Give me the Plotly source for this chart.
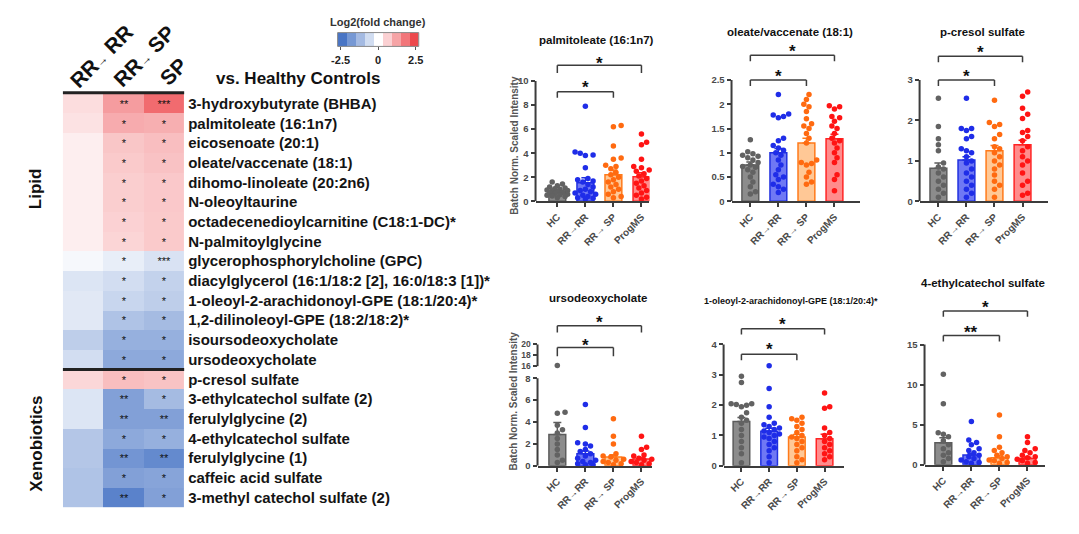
import plotly.graph_objects as go

W, H = 1079, 534
FONT = "Liberation Sans, Arial, sans-serif"


def fx(p):
    return p / W


def fy(p):
    return 1 - p / H


# ---------------------------------------------------------------- heatmap data
metabolites = [
    "3-hydroxybutyrate (BHBA)", "palmitoleate (16:1n7)", "eicosenoate (20:1)",
    "oleate/vaccenate (18:1)", "dihomo-linoleate (20:2n6)", "N-oleoyltaurine",
    "octadecenedioylcarnitine (C18:1-DC)*", "N-palmitoylglycine",
    "glycerophosphorylcholine (GPC)", "diacylglycerol (16:1/18:2 [2], 16:0/18:3 [1])*",
    "1-oleoyl-2-arachidonoyl-GPE (18:1/20:4)*", "1,2-dilinoleoyl-GPE (18:2/18:2)*",
    "isoursodeoxycholate", "ursodeoxycholate", "p-cresol sulfate",
    "3-ethylcatechol sulfate (2)", "ferulylglycine (2)", "4-ethylcatechol sulfate",
    "ferulylglycine (1)", "caffeic acid sulfate", "3-methyl catechol sulfate (2)",
]
comparisons = ["RR→ RR", "RR→ SP", "SP"]
fc_rr_rr = [0.45, 0.38, 0.22, 0.22, 0.22, 0.22, 0.22, 0.22, -0.12, -0.46, -0.4, -0.4, -0.86,
            -0.59, 0.53, -0.46, -0.46, -0.99, -0.99, -1.05, -1.05]
fc_rr_sp = [1.3, 1.1, 0.75, 0.7, 0.65, 0.65, 0.6, 0.55, -0.3, -0.59, -0.72, -1.05, -1.38,
            -1.5, 0.86, -1.65, -1.65, -1.5, -1.84, -1.65, -2.17]
fc_sp = [1.95, 1.05, 0.85, 0.8, 0.72, 0.72, 0.7, 0.7, -0.5, -0.79, -0.86, -1.19, -1.38,
         -1.5, 0.79, -1.19, -1.65, -1.38, -2.04, -1.58, -1.65]
sig_rr_rr = [""] * 21
sig_rr_sp = ["**", "*", "*", "*", "*", "*", "*", "*", "*", "*", "*", "*", "*", "*",
             "*", "**", "**", "*", "**", "*", "**"]
sig_sp = ["***", "*", "*", "*", "*", "*", "*", "*", "***", "*", "*", "*", "*", "*",
          "*", "*", "**", "*", "**", "*", "*"]
class_names = ["Lipid", "Xenobiotics"]
n_lipid_rows = 14

cbar_values = [-2.4, -1.8, -1.2, -0.6, 0.0, 0.6, 1.2, 1.8, 2.4]
cbar_ticks = [-2.5, 0, 2.5]

# ---------------------------------------------------------------- bar chart data
groups = ["HC", "RR→RR", "RR→ SP", "ProgMS"]

palmitoleate_hc = [1.6, 1.45, 1.3, 1.2, 1.1, 1.05, 1.0, 0.95, 0.9, 0.85, 0.8, 0.75, 0.7,
                   0.65, 0.6, 0.55, 0.5, 0.45, 0.4, 0.3]
palmitoleate_rr = [7.9, 4.1, 4.0, 3.85, 3.8, 2.8, 1.9, 1.8, 1.7, 1.6, 1.4, 1.2, 1.0, 0.9,
                   0.8, 0.7, 0.6, 0.5, 0.4, 0.3, 0.25, 0.2]
palmitoleate_sp = [6.3, 6.2, 4.6, 3.6, 3.5, 3.0, 2.9, 2.7, 2.4, 2.2, 2.0, 1.8, 1.6, 1.4,
                   1.2, 1.0, 0.8, 0.6, 0.4, 0.3]
palmitoleate_prog = [5.6, 4.9, 4.7, 3.5, 2.9, 2.8, 2.6, 2.5, 2.3, 2.1, 1.9, 1.7, 1.5, 1.3,
                     1.1, 0.9, 0.7, 0.5, 0.35, 0.2]
palmitoleate_mean = [0.85, 1.55, 2.2, 2.05]
palmitoleate_sem = [0.08, 0.4, 0.4, 0.33]

oleate_hc = [1.27, 1.02, 0.98, 0.95, 0.93, 0.9, 0.85, 0.8, 0.75, 0.72, 0.7, 0.65, 0.6, 0.5,
             0.4, 0.3, 0.2, 0.15]
oleate_rr = [2.2, 1.8, 1.78, 1.75, 1.72, 1.3, 1.25, 1.15, 1.1, 1.05, 1.0, 0.95, 0.85, 0.75,
             0.65, 0.55, 0.5, 0.45, 0.35, 0.3, 0.25, 0.18]
oleate_sp = [2.2, 2.1, 2.0, 1.95, 1.85, 1.7, 1.6, 1.55, 1.5, 1.4, 1.3, 1.2, 0.85, 0.8, 0.78,
             0.75, 0.6, 0.5, 0.4, 0.35]
oleate_prog = [1.97, 1.95, 1.9, 1.75, 1.72, 1.65, 1.55, 1.5, 1.4, 1.3, 1.25, 1.2, 1.1, 1.0,
               0.9, 0.8, 0.55, 0.45, 0.22]
oleate_mean = [0.75, 1.0, 1.2, 1.29]
oleate_sem = [0.06, 0.09, 0.1, 0.09]

pcresol_hc = [2.55, 1.85, 1.55, 1.4, 1.25, 0.95, 0.85, 0.8, 0.7, 0.6, 0.5, 0.4, 0.3, 0.2, 0.1]
pcresol_rr = [2.55, 1.8, 1.8, 1.75, 1.6, 1.55, 1.3, 1.25, 1.2, 1.1, 1.0, 0.95, 0.8, 0.7, 0.6,
              0.5, 0.4, 0.3, 0.2, 0.1]
pcresol_sp = [2.5, 1.95, 1.9, 1.85, 1.65, 1.55, 1.35, 1.3, 1.2, 1.1, 1.0, 0.9, 0.8, 0.65, 0.5,
              0.4, 0.3, 0.1]
pcresol_prog = [2.7, 2.6, 2.3, 2.15, 2.05, 1.75, 1.7, 1.6, 1.5, 1.35, 1.25, 1.1, 1.0, 0.9,
                0.7, 0.5, 0.4, 0.2, 0.15]
pcresol_mean = [0.82, 1.02, 1.25, 1.4]
pcresol_sem = [0.13, 0.08, 0.13, 0.11]

urso_hc = [16.1, 4.9, 4.8, 3.7, 3.3, 3.0, 2.5, 2.0, 1.5, 1.0, 0.5, 0.3]
urso_rr = [5.6, 3.5, 2.1, 2.0, 1.8, 1.5, 1.3, 1.1, 0.9, 0.7, 0.5, 0.4, 0.3, 0.2, 0.1, 0.1]
urso_sp = [4.3, 2.7, 2.0, 1.1, 0.9, 0.8, 0.6, 0.5, 0.4, 0.3, 0.2, 0.1]
urso_prog = [2.7, 1.7, 1.5, 1.0, 0.9, 0.7, 0.6, 0.5, 0.4, 0.3, 0.2, 0.1]
urso_mean = [2.85, 1.1, 0.8, 0.62]
urso_sem = [1.1, 0.25, 0.22, 0.13]

gpe_hc = [2.95, 2.75, 2.05, 2.05, 2.02, 2.0, 1.95, 1.75, 1.6, 1.5, 1.4, 1.2, 1.0, 0.8, 0.6,
          0.4, 0.1]
gpe_rr = [3.3, 2.55, 1.95, 1.6, 1.4, 1.35, 1.3, 1.25, 1.2, 1.15, 1.1, 1.05, 1.0, 0.95, 0.9,
          0.8, 0.7, 0.6, 0.5, 0.3, 0.1]
gpe_sp = [1.6, 1.55, 1.5, 1.4, 1.3, 1.2, 1.1, 1.0, 0.95, 0.9, 0.8, 0.7, 0.6, 0.5, 0.3, 0.2, 0.1]
gpe_prog = [2.4, 1.95, 1.9, 1.25, 1.1, 1.0, 0.9, 0.8, 0.7, 0.6, 0.5, 0.4, 0.3, 0.2]
gpe_mean = [1.46, 1.14, 0.95, 0.89]
gpe_sem = [0.13, 0.1, 0.08, 0.15]

ethylcat_hc = [11.3, 7.6, 4.0, 3.8, 3.5, 3.0, 2.5, 2.0, 1.5, 1.2, 0.8, 0.4]
ethylcat_rr = [5.4, 3.1, 2.8, 2.5, 2.0, 1.8, 1.5, 1.2, 1.0, 0.8, 0.6, 0.4, 0.3, 0.2]
ethylcat_sp = [6.2, 3.5, 2.2, 1.8, 1.5, 1.2, 1.0, 0.8, 0.6, 0.5, 0.3, 0.2]
ethylcat_prog = [3.5, 2.8, 2.0, 1.8, 1.5, 1.2, 1.0, 0.9, 0.7, 0.5, 0.3, 0.2]
ethylcat_mean = [2.74, 1.23, 0.9, 0.8]
ethylcat_sem = [0.65, 0.22, 0.27, 0.15]

titles = ["palmitoleate (16:1n7)", "oleate/vaccenate (18:1)", "p-cresol sulfate",
          "ursodeoxycholate", "1-oleoyl-2-arachidonoyl-GPE (18:1/20:4)*",
          "4-ethylcatechol sulfate"]
yticks = [[0, 2, 4, 6, 8, 10], [0, 0.5, 1.0, 1.5, 2.0, 2.5], [0, 1, 2, 3],
          [0, 2, 4, 6, 8], [0, 1, 2, 3, 4], [0, 5, 10, 15]]
yticks_upper_urso = [16, 18, 20]
# significance vs HC: (lower bracket HC vs RR→SP, upper bracket HC vs ProgMS)
sig_labels = [("*", "*"), ("*", "*"), ("*", "*"), ("*", "*"), ("*", "*"), ("**", "*")]
ylabel = "Batch Norm. Scaled Intensity"

all_points = [
    [palmitoleate_hc, palmitoleate_rr, palmitoleate_sp, palmitoleate_prog],
    [oleate_hc, oleate_rr, oleate_sp, oleate_prog],
    [pcresol_hc, pcresol_rr, pcresol_sp, pcresol_prog],
    [urso_hc, urso_rr, urso_sp, urso_prog],
    [gpe_hc, gpe_rr, gpe_sp, gpe_prog],
    [ethylcat_hc, ethylcat_rr, ethylcat_sp, ethylcat_prog],
]
all_means = [palmitoleate_mean, oleate_mean, pcresol_mean, urso_mean, gpe_mean, ethylcat_mean]
all_sems = [palmitoleate_sem, oleate_sem, pcresol_sem, urso_sem, gpe_sem, ethylcat_sem]

# ---------------------------------------------------------------- styling / geometry (pixels)
bar_fill = ["#8c8c8c", "#6f78f4", "#ffc896", "#ff8c8c"]
bar_edge = ["#5c5c5c", "#2030e0", "#ff7a1a", "#ff2424"]
dot_col = ["#626262", "#1f2de8", "#ff6a10", "#ff1414"]
AX = "#3c3c3c"
TICKC = "#4a4a4a"

geo = [
    dict(dom=(535, 650), hc=557, prog=642, y0=202, ppu=12.2, ytop=45, title=(597, 39, 11.5),
         br=((91, 97, 82), (64, 72, 57))),
    dict(dom=(733, 863), hc=752, prog=837, y0=202, ppu=49.2, ytop=40, title=(792, 30, 11.5),
         br=((79, 85, 70), (54, 60, 45))),
    dict(dom=(923, 1053), hc=942, prog=1027, y0=202, ppu=41.0, ytop=40, title=(987, 30, 11.5),
         br=((79, 85, 70), (55, 61, 46))),
    dict(dom=(537, 653), hc=557, prog=642, y0=470, ppu=11.1, ytop=378, title=(598, 300, 11.5),
         br=((350, 359, 343), (328, 335, 320))),
    dict(dom=(725, 847), hc=743, prog=827, y0=470, ppu=30.75, ytop=315, title=(793, 303, 9),
         br=((357, 363, 347), (331, 337, 322))),
    dict(dom=(928, 1050), hc=947, prog=1032, y0=469, ppu=8.13, ytop=298, title=(987, 285, 11.5),
         br=((338, 344, 330), (313, 319, 305))),
]
# broken-axis upper segment of ursodeoxycholate panel
upper = dict(v16_px=369, ppu=5.5, bottom_px=373, top_px=312)


def swarm(vals, ppu_y, ppu_x, d=5.4, step=2.6, maxoff=11):
    cands = [0.0]
    k = 1
    while k * step <= maxoff:
        cands += [k * step, -k * step]
        k += 1
    placed = []
    offs = [0.0] * len(vals)
    for i in sorted(range(len(vals)), key=lambda j: vals[j]):
        yv = vals[i] * ppu_y
        best, best_c, best_d = None, 0.0, -1
        for c in cands:
            md = min([((c - a) ** 2 + (yv - b) ** 2) ** 0.5 for a, b in placed] or [1e9])
            if md >= d:
                best = c
                break
            if md > best_d:
                best_d, best_c = md, c
        if best is None:
            best = best_c
        placed.append((best, yv))
        offs[i] = best / ppu_x
    return offs


def note(x, y, text, size, color="#111", angle=0, xref="paper", yref="paper"):
    return dict(x=x, y=y, xref=xref, yref=yref, showarrow=False, text=text,
                textangle=angle, xanchor="center", yanchor="middle",
                font=dict(size=size, weight="bold", color=color, family=FONT))


fig = go.Figure()
CS = [[0, "rgb(50,100,190)"], [0.5, "rgb(255,255,255)"], [1, "rgb(235,50,55)"]]
ZMAX = 2.7

# ---------------------------------------------------------------- heatmap
z = [[a, b, c] for a, b, c in zip(fc_rr_rr, fc_rr_sp, fc_sp)]
txt = [[a, b, c] for a, b, c in zip(sig_rr_rr, sig_rr_sp, sig_sp)]
fig.add_trace(go.Heatmap(z=z, x=[0, 1, 2], y=list(range(len(metabolites))), colorscale=CS,
                         zmin=-ZMAX, zmax=ZMAX, showscale=False, text=txt,
                         texttemplate="%{text}",
                         textfont=dict(size=11, color="#111", family=FONT),
                         hoverinfo="skip", xaxis="x", yaxis="y"))

# mini colour bar
fig.add_trace(go.Heatmap(z=[cbar_values], x=cbar_values, y=[0], colorscale=CS, zmin=-ZMAX,
                         zmax=ZMAX, showscale=False, hoverinfo="skip", xaxis="x2", yaxis="y2"))

layout = dict(
    width=W, height=H, margin=dict(l=0, r=0, t=0, b=0), paper_bgcolor="white",
    plot_bgcolor="rgba(0,0,0,0)", barmode="overlay", showlegend=False,
    font=dict(family=FONT, color="#111"),
    xaxis=dict(domain=[fx(57.5), fx(180)], range=[-0.5, 2.5], visible=False, anchor="y"),
    yaxis=dict(domain=[fy(512), fy(93)], range=[20.5, -0.5], side="right", anchor="x",
               tickvals=list(range(len(metabolites))), ticktext=metabolites, ticks="",
               showgrid=False, zeroline=False, showline=False, ticklabelstandoff=3,
               tickfont=dict(size=15, weight="bold", color="#141414", family=FONT)),
    xaxis2=dict(domain=[fx(335), fx(417)], range=[-2.7, 2.7], anchor="y2",
                tickvals=cbar_ticks, ticktext=["-2.5", "0", "2.5"], ticks="outside",
                ticklen=3, tickcolor="#555", showgrid=False, zeroline=False, showline=False,
                tickfont=dict(size=11, weight="bold", color="#222", family=FONT)),
    yaxis2=dict(domain=[fy(45), fy(31)], range=[-0.5, 0.5], visible=False, anchor="x2"),
)

shapes = [
    dict(type="line", xref="paper", yref="paper", x0=fx(57.5), x1=fx(180), y0=fy(92),
         y1=fy(92), line=dict(color="#222", width=3)),
    dict(type="line", xref="paper", yref="y", x0=fx(57.5), x1=fx(180),
         y0=n_lipid_rows - 0.5, y1=n_lipid_rows - 0.5, line=dict(color="#222", width=3)),
    dict(type="rect", xref="x2 domain", yref="y2 domain", x0=0, x1=1, y0=0, y1=1,
         line=dict(color="#888", width=1)),
]
ann = []

# header annotations
arrow = "<span style='font-size:12px'>→</span>"
hdr_pos = [(96, 55), (139, 55), (169, 70)]
for name, (hx, hy) in zip(comparisons, hdr_pos):
    ann.append(note(fx(hx), fy(hy), name.replace("→", arrow), 21, angle=-45))
ann.append(note(fx(295), fy(78), "vs. Healthy Controls", 17))
ann.append(note(fx(376), fy(20), "Log2(fold change)", 11, color="#333"))
for name, cy in zip(class_names, [189, 448]):
    ann.append(note(fx(30), fy(cy), name, 17, angle=-90))

# ---------------------------------------------------------------- bar panels
for p in range(6):
    n = p + 3
    g = geo[p]
    xr, yr = f"x{n}", f"y{n}"
    sp = (g["prog"] - g["hc"]) / 3
    x0 = -(g["hc"] - g["dom"][0]) / sp
    x1 = (g["dom"][1] - g["hc"]) / sp
    ytop = (g["y0"] - g["ytop"]) / g["ppu"]
    lower_max = yticks[p][-1]
    layout[f"xaxis{n}"] = dict(
        domain=[fx(g["dom"][0]), fx(g["dom"][1])], range=[x0, x1], anchor=yr,
        tickvals=[0, 1, 2, 3], ticktext=groups, tickangle=-45, ticks="outside", ticklen=4,
        tickwidth=2, tickcolor=AX, showline=True, linecolor=AX, linewidth=2, showgrid=False,
        zeroline=False, tickfont=dict(size=10, weight="bold", color=TICKC, family=FONT))
    layout[f"yaxis{n}"] = dict(
        domain=[fy(g["y0"]), fy(g["ytop"])], range=[0, ytop], anchor=xr,
        tickvals=yticks[p], ticks="outside", ticklen=4, tickwidth=2, tickcolor=AX,
        showline=False, showgrid=False, zeroline=False,
        tickfont=dict(size=9.5, weight="bold", color=TICKC, family=FONT))
    shapes.append(dict(type="line", xref="paper", yref=yr, x0=fx(g["dom"][0]),
                       x1=fx(g["dom"][0]), y0=0, y1=lower_max,
                       line=dict(color=AX, width=2)))

    if p == 3:
        yb = "y9"
        layout["yaxis9"] = dict(
            domain=[fy(upper["bottom_px"]), fy(upper["top_px"])],
            range=[16 - (upper["bottom_px"] - upper["v16_px"]) / upper["ppu"],
                   16 + (upper["v16_px"] - upper["top_px"]) / upper["ppu"]],
            anchor=xr, tickvals=yticks_upper_urso, ticks="outside", ticklen=4, tickwidth=2,
            tickcolor=AX, showline=False, showgrid=False, zeroline=False,
            tickfont=dict(size=8.5, weight="bold", color=TICKC, family=FONT))
        shapes.append(dict(type="line", xref="paper", yref="y9", x0=fx(g["dom"][0]),
                           x1=fx(g["dom"][0]), y0=yticks_upper_urso[0],
                           y1=yticks_upper_urso[-1], line=dict(color=AX, width=2)))

        def tod(px_):
            return 16 + (upper["v16_px"] - px_) / upper["ppu"]
    else:
        yb = yr

        def tod(px_, g=g):
            return (g["y0"] - px_) / g["ppu"]

    for i in range(4):
        fig.add_trace(go.Bar(
            x=[i], y=[all_means[p][i]], width=0.6, xaxis=xr, yaxis=yr,
            marker=dict(color=bar_fill[i], line=dict(color=bar_edge[i], width=1.5)),
            error_y=dict(type="data", array=[all_sems[p][i]], arrayminus=[0], symmetric=False,
                         color=bar_edge[i], thickness=1.5, width=4),
            hoverinfo="skip"))
    for i in range(4):
        vals = all_points[p][i]
        lo = [v for v in vals if v <= lower_max]
        hi = [v for v in vals if v > lower_max]
        offs = swarm(lo, g["ppu"], sp)
        fig.add_trace(go.Scatter(x=[i + o for o in offs], y=lo, mode="markers",
                                 marker=dict(size=5.5, color=dot_col[i]), cliponaxis=False,
                                 xaxis=xr, yaxis=yr, hoverinfo="skip"))
        if hi:
            fig.add_trace(go.Scatter(x=[i] * len(hi), y=hi, mode="markers",
                                     marker=dict(size=5.5, color=dot_col[i]),
                                     cliponaxis=False, xaxis=xr, yaxis="y9",
                                     hoverinfo="skip"))

    # significance brackets: HC vs RR→SP (lower) and HC vs ProgMS (upper)
    for (line_px, leg_px, star_px), xend, lab in zip(g["br"], [2, 3], sig_labels[p]):
        yl, yg = tod(line_px), tod(leg_px)
        for (a0, b0, a1, b1) in [(0, yl, xend, yl), (0, yl, 0, yg), (xend, yl, xend, yg)]:
            shapes.append(dict(type="line", xref=xr, yref=yb, x0=a0, y0=b0, x1=a1, y1=b1,
                               line=dict(color=AX, width=1.5)))
        ann.append(note(xend / 2, tod(star_px + 5), lab, 17, xref=xr, yref=yb))

    tx, ty, ts = g["title"]
    ann.append(note(fx(tx), fy(ty), titles[p], ts))

for cy in [145, 404]:
    ann.append(note(fx(513), fy(cy), ylabel, 10, color="#555", angle=-90))

layout["shapes"] = shapes
layout["annotations"] = ann
fig.update_layout(layout)
fig.write_html("out.html")
